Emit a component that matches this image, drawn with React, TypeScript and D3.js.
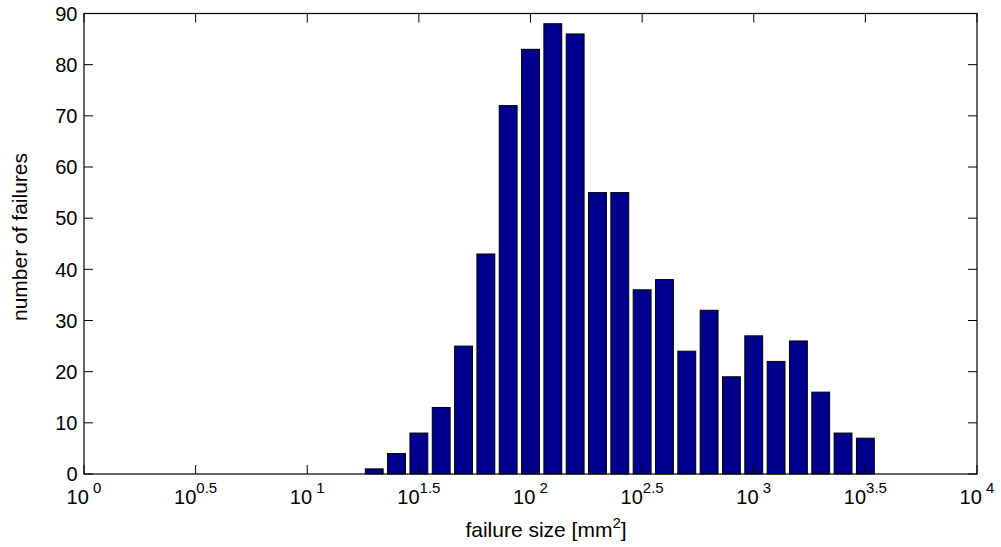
import React from "react";
import * as d3 from "d3";

// bin centres (log10 of failure size, mm^2)
const binExponents = [
  0.0, 0.1, 0.2, 0.3, 0.4, 0.5, 0.6, 0.7, 0.8, 0.9, 1.0, 1.1, 1.2,
  1.3, 1.4, 1.5, 1.6, 1.7, 1.8, 1.9, 2.0, 2.1, 2.2, 2.3, 2.4, 2.5,
  2.6, 2.7, 2.8, 2.9, 3.0, 3.1, 3.2, 3.3, 3.4, 3.5,
];
const counts = [
  0, 0, 0, 0, 0, 0, 0, 0, 0, 0, 0, 0, 0,
  1, 4, 8, 13, 25, 43, 72, 83, 88, 86, 55, 55, 36,
  38, 24, 32, 19, 27, 22, 26, 16, 8, 7,
];
const xTickExponents = [0, 0.5, 1, 1.5, 2, 2.5, 3, 3.5, 4];
const xTickLabels = [" 0", "0.5", " 1", "1.5", " 2", "2.5", " 3", "3.5", " 4"];
const yTicks = [0, 10, 20, 30, 40, 50, 60, 70, 80, 90];

const W = 1001;
const H = 547;
const L = 84;
const R = 977;
const T = 13.5;
const B = 474;
const FONT = "'Liberation Sans', Arial, Helvetica, sans-serif";

export default function App() {
  const x = d3.scaleLinear().domain([0, 4]).range([L, R]);
  const y = d3.scaleLinear().domain([0, 90]).range([B, T]);
  const binW = x(0.1) - x(0);
  const barW = binW * 0.8;
  const tickLen = 9;

  return (
    <div style={{ position: "absolute", left: 0, top: 0 }}>
      <svg width={W} height={H} style={{ display: "block", background: "#fff" }}>
        <defs>
          <clipPath id="plotclip">
            <rect x={L} y={T} width={R - L} height={B - T + 1} />
          </clipPath>
        </defs>
        <rect x={0} y={0} width={W} height={H} fill="#fff" />
        <g clipPath="url(#plotclip)">
          {binExponents.map((e, i) => {
            const cx = x(e);
            const top = y(counts[i]);
            return (
              <rect
                key={i}
                x={cx - barW / 2}
                y={top}
                width={barW}
                height={B - top}
                fill="#00008F"
                stroke="#000"
                strokeWidth={1}
              />
            );
          })}
        </g>
        {/* axes box */}
        <rect x={L} y={T} width={R - L} height={B - T} fill="none" stroke="#000" strokeWidth={1.2} />
        {/* x ticks */}
        {xTickExponents.map((e, i) => (
          <g key={"xt" + i}>
            <line x1={x(e)} x2={x(e)} y1={B} y2={B - tickLen} stroke="#000" strokeWidth={1} />
            <line x1={x(e)} x2={x(e)} y1={T} y2={T + tickLen} stroke="#000" strokeWidth={1} />
            <text
              x={x(e)}
              y={504}
              textAnchor="middle"
              fontFamily={FONT}
              fontSize={20}
              fill="#000"
              style={{ whiteSpace: "pre" }}
            >
              10
              <tspan fontSize={15} dy={-11.5}>{xTickLabels[i]}</tspan>
            </text>
          </g>
        ))}
        {/* y ticks */}
        {yTicks.map((v) => (
          <g key={"yt" + v}>
            <line x1={L} x2={L + tickLen} y1={y(v)} y2={y(v)} stroke="#000" strokeWidth={1} />
            <line x1={R} x2={R - tickLen} y1={y(v)} y2={y(v)} stroke="#000" strokeWidth={1} />
            <text
              x={77.5}
              y={y(v) + 7.2}
              textAnchor="end"
              fontFamily={FONT}
              fontSize={20}
              fill="#000"
            >
              {v}
            </text>
          </g>
        ))}
        {/* x label */}
        <text x={546} y={536.5} textAnchor="middle" fontFamily={FONT} fontSize={21} fill="#000">
          failure size [mm
          <tspan fontSize={15} dy={-9}>2</tspan>
          <tspan dy={9}>]</tspan>
        </text>
        {/* y label */}
        <text
          transform={`translate(27, 237) rotate(-90)`}
          textAnchor="middle"
          fontFamily={FONT}
          fontSize={21}
          fill="#000"
        >
          number of failures
        </text>
      </svg>
    </div>
  );
}
